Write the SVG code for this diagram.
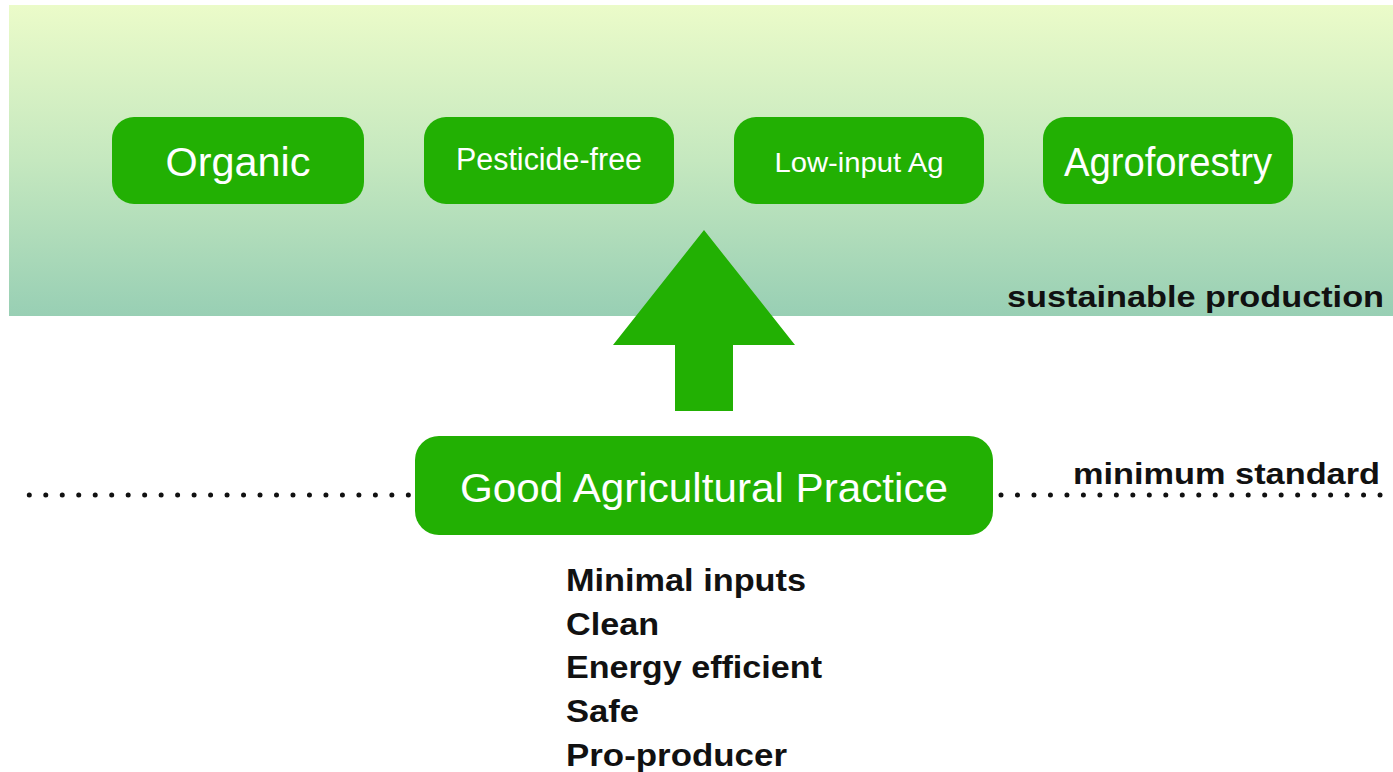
<svg xmlns="http://www.w3.org/2000/svg" width="1393" height="772" viewBox="0 0 1393 772">
  <defs>
    <linearGradient id="band" x1="0" y1="0" x2="0" y2="1">
      <stop offset="0" stop-color="#ebfbc9"/>
      <stop offset="0.5" stop-color="#c5e8bf"/>
      <stop offset="1" stop-color="#98cfb4"/>
    </linearGradient>
  </defs>
  <style>
    .box { fill: #22b003; }
    .lbl { fill: #ffffff; font-family: "Liberation Sans", Arial, sans-serif; text-anchor: middle; }
    .note { fill: #111111; font-family: "Liberation Sans", Arial, sans-serif; font-weight: bold; }
    .dots { stroke: #111111; stroke-width: 5; stroke-linecap: round; stroke-dasharray: 0 16.48; fill: none; }
  </style>

  <!-- sustainable production band -->
  <rect x="9" y="5" width="1384" height="311" fill="url(#band)"/>
  <text class="note" x="1384" y="307" font-size="30" text-anchor="end" textLength="377" lengthAdjust="spacingAndGlyphs">sustainable production</text>

  <g id="organic">
    <rect class="box" x="112" y="117" width="252" height="87" rx="22"/>
    <text class="lbl" x="238" y="176" font-size="40" textLength="145" lengthAdjust="spacingAndGlyphs">Organic</text>
  </g>
  <g id="pesticide-free">
    <rect class="box" x="424" y="117" width="250" height="87" rx="22"/>
    <text class="lbl" x="549" y="170" font-size="31" textLength="186" lengthAdjust="spacingAndGlyphs">Pesticide-free</text>
  </g>
  <g id="low-input">
    <rect class="box" x="734" y="117" width="250" height="87" rx="22"/>
    <text class="lbl" x="859" y="172" font-size="28" textLength="169" lengthAdjust="spacingAndGlyphs">Low-input Ag</text>
  </g>
  <g id="agroforestry">
    <rect class="box" x="1043" y="117" width="250" height="87" rx="22"/>
    <text class="lbl" x="1168" y="176" font-size="40" textLength="208" lengthAdjust="spacingAndGlyphs">Agroforestry</text>
  </g>

  <!-- upward arrow from the minimum standard to sustainable production -->
  <g id="connectors">
    <polygon class="box" points="704,230 795,345 733,345 733,411 675,411 675,345 613,345"/>
  </g>

  <!-- minimum standard line -->
  <line class="dots" x1="29.3" y1="495" x2="409" y2="495"/>
  <line class="dots" x1="1001" y1="495" x2="1381" y2="495"/>
  <text class="note" x="1073" y="484" font-size="30" textLength="307" lengthAdjust="spacingAndGlyphs">minimum standard</text>

  <g id="gap">
    <rect class="box" x="415" y="436" width="578" height="99" rx="24"/>
    <text class="lbl" x="704" y="502" font-size="41" textLength="488" lengthAdjust="spacingAndGlyphs">Good Agricultural Practice</text>
  </g>

  <!-- GAP criteria -->
  <g id="criteria" class="note" font-size="31">
    <text x="566" y="591" textLength="240" lengthAdjust="spacingAndGlyphs">Minimal inputs</text>
    <text x="566" y="635" textLength="93" lengthAdjust="spacingAndGlyphs">Clean</text>
    <text x="566" y="678" textLength="256" lengthAdjust="spacingAndGlyphs">Energy efficient</text>
    <text x="566" y="722" textLength="73" lengthAdjust="spacingAndGlyphs">Safe</text>
    <text x="566" y="766" textLength="221" lengthAdjust="spacingAndGlyphs">Pro-producer</text>
  </g>
</svg>
